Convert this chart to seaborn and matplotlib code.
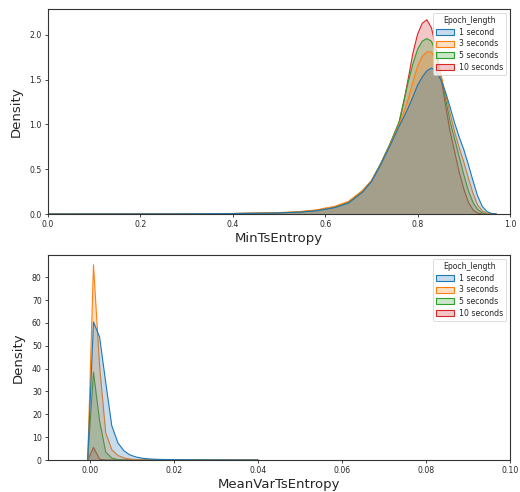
import matplotlib
matplotlib.use("Agg")
import matplotlib.pyplot as plt
from matplotlib.colors import to_rgba
from matplotlib.patches import Patch
import pandas as pd
import seaborn as sns

sns.set_style("ticks")

# Epoch lengths (hue levels)
epoch_lengths = ["1 second", "3 seconds", "5 seconds", "10 seconds"]

# MinTsEntropy density curves
min_ts_x = [0.00, 0.20, 0.30, 0.40, 0.48, 0.54, 0.58, 0.62, 0.65, 0.68, 0.70, 0.72, 0.74, 0.76,
            0.77, 0.78, 0.79, 0.80, 0.81, 0.82, 0.83, 0.84, 0.85, 0.86, 0.87, 0.88,
            0.89, 0.90, 0.91, 0.92, 0.93, 0.94, 0.95, 0.96, 0.97]
min_ts_1s = [0.000, 0.001, 0.002, 0.005, 0.010, 0.020, 0.035, 0.070, 0.120, 0.240, 0.360, 0.550, 0.760, 0.980,
             1.080, 1.190, 1.310, 1.440, 1.530, 1.600, 1.630, 1.600, 1.500, 1.370, 1.200, 1.020,
             0.860, 0.720, 0.550, 0.370, 0.200, 0.085, 0.028, 0.006, 0.000]
min_ts_3s = [0.000, 0.001, 0.003, 0.006, 0.012, 0.025, 0.045, 0.085, 0.140, 0.260, 0.370, 0.550, 0.770, 1.000,
             1.130, 1.290, 1.480, 1.650, 1.760, 1.810, 1.810, 1.720, 1.560, 1.350, 1.130, 0.920,
             0.740, 0.580, 0.400, 0.230, 0.100, 0.035, 0.008, 0.000, 0.000]
min_ts_5s = [0.000, 0.001, 0.002, 0.005, 0.010, 0.020, 0.040, 0.075, 0.130, 0.250, 0.370, 0.560, 0.780, 1.030,
             1.260, 1.480, 1.680, 1.840, 1.930, 1.960, 1.930, 1.800, 1.570, 1.300, 1.040, 0.840,
             0.640, 0.440, 0.260, 0.130, 0.050, 0.012, 0.000, 0.000, 0.000]
min_ts_10s = [0.000, 0.001, 0.002, 0.005, 0.010, 0.020, 0.040, 0.075, 0.130, 0.250, 0.370, 0.560, 0.780, 1.020,
              1.250, 1.520, 1.800, 2.010, 2.130, 2.170, 2.080, 1.850, 1.550, 1.230, 0.930, 0.700,
              0.470, 0.280, 0.130, 0.045, 0.010, 0.000, 0.000, 0.000, 0.000]

# MeanVarTsEntropy density curves
mean_var_x = [-0.00055, 0.00083, 0.00229, 0.00374, 0.00519, 0.00664, 0.0081, 0.00952,
              0.0110, 0.0124, 0.0139, 0.0153, 0.0170, 0.0200, 0.0250, 0.0300, 0.0350, 0.0400]
mean_var_1s = [0.0, 60.4, 53.8, 34.0, 15.0, 7.5, 4.0, 2.2, 1.3, 0.8, 0.5, 0.35, 0.25, 0.15, 0.07, 0.03, 0.01, 0.0]
mean_var_3s = [0.0, 85.4, 41.0, 12.0, 4.5, 2.0, 0.9, 0.4, 0.15, 0.05, 0.0, 0.0, 0.0, 0.0, 0.0, 0.0, 0.0, 0.0]
mean_var_5s = [0.0, 38.5, 17.0, 3.5, 0.8, 0.2, 0.0, 0.0, 0.0, 0.0, 0.0, 0.0, 0.0, 0.0, 0.0, 0.0, 0.0, 0.0]
mean_var_10s = [0.0, 5.5, 0.3, 0.0, 0.0, 0.0, 0.0, 0.0, 0.0, 0.0, 0.0, 0.0, 0.0, 0.0, 0.0, 0.0, 0.0, 0.0]


def long_frame(x, series, name):
    rows = []
    for label, vals in zip(epoch_lengths, series):
        for xv, yv in zip(x, vals):
            rows.append({name: xv, "Density": yv, "Epoch_length": label})
    return pd.DataFrame(rows)


df_min = long_frame(min_ts_x, [min_ts_1s, min_ts_3s, min_ts_5s, min_ts_10s], "MinTsEntropy")
df_var = long_frame(mean_var_x, [mean_var_1s, mean_var_3s, mean_var_5s, mean_var_10s], "MeanVarTsEntropy")

palette = sns.color_palette("tab10", 4)

fig = plt.figure(figsize=(5.2, 4.92), dpi=100)
ax1 = fig.add_axes([48 / 520, 1 - 214 / 492, 462 / 520, 205 / 492])
ax2 = fig.add_axes([48 / 520, 1 - 460 / 492, 462 / 520, 205 / 492])


def draw_density(ax, df, name, xlim, ylim, xticks):
    # last hue level first, so the first level ends up on top
    order = list(zip(epoch_lengths, palette))[::-1]
    for i, (label, color) in enumerate(order):
        sub = df[df["Epoch_length"] == label]
        ax.fill_between(sub[name], 0, sub["Density"], facecolor=to_rgba(color, 0.25),
                        edgecolor="none", zorder=2 + 2 * i)
        sns.lineplot(data=sub, x=name, y="Density", color=color, linewidth=0.8,
                     ax=ax, legend=False, sort=False, zorder=3 + 2 * i)
    ax.set_xlim(*xlim)
    ax.set_ylim(*ylim)
    ax.set_xticks(xticks)
    ax.set_xlabel(name, fontsize=9.5, labelpad=2)
    ax.set_ylabel("Density", fontsize=9.5, labelpad=5)
    ax.tick_params(labelsize=5.6, length=2.5, width=0.6, pad=2)
    for sp in ax.spines.values():
        sp.set_linewidth(0.8)
        sp.set_color("#333333")
        sp.set_zorder(20)
    handles = [Patch(facecolor=to_rgba(c, 0.25), edgecolor=c, linewidth=0.8) for c in palette]
    leg = ax.legend(handles, epoch_lengths, title="Epoch_length", loc="upper right",
                    fontsize=5.6, title_fontsize=5.6, handlelength=2.3, handleheight=0.8,
                    borderpad=0.4, labelspacing=0.35, handletextpad=0.6, framealpha=0.8)
    leg.set_zorder(30)
    leg.get_frame().set_linewidth(0.6)


draw_density(ax1, df_min, "MinTsEntropy", (0.0, 1.0), (0, 2.29),
             [0.0, 0.2, 0.4, 0.6, 0.8, 1.0])
draw_density(ax2, df_var, "MeanVarTsEntropy", (-0.01, 0.10), (0, 89.7),
             [0.00, 0.02, 0.04, 0.06, 0.08, 0.10])
ax2.set_xticklabels(["0.00", "0.02", "0.04", "0.06", "0.08", "0.10"])

fig.savefig("out.png", dpi=100)
